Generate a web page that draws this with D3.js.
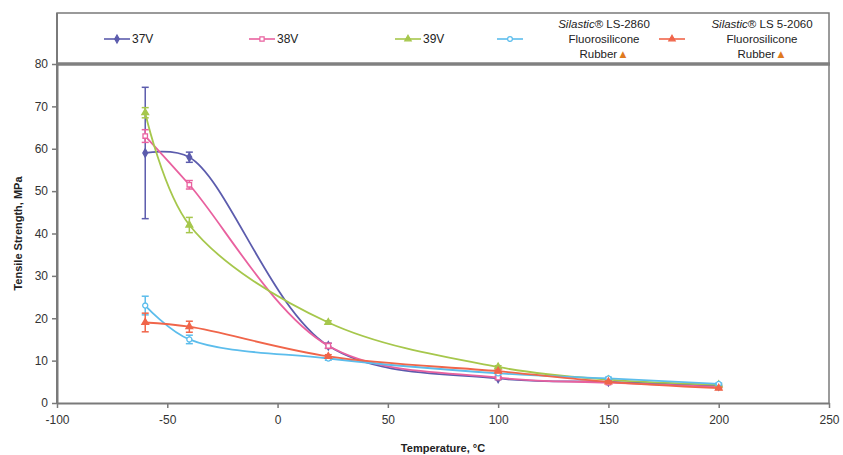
<!DOCTYPE html>
<html><head><meta charset="utf-8">
<script src="https://cdn.jsdelivr.net/npm/d3@7"></script>
<style>body{margin:0;background:#fff}svg{display:block}text{font-family:Arial,"Liberation Sans",sans-serif}</style>
</head><body><svg id="c" width="843" height="455"></svg>
<script>
const temps = [-60, -40, 23, 100, 150, 200];
const xTicks = [-100, -50, 0, 50, 100, 150, 200, 250];
const yTicks = [0, 10, 20, 30, 40, 50, 60, 70, 80];
const v37 = [59, 58, 13.5, 5.8, 5.0, 4.0];
const e37 = [15.5, 1.2, 0.6, 0.3, 0.2, 0.2];
const v38 = [63, 51.5, 13.5, 6.0, 4.8, 3.8];
const e38 = [1.5, 1.0, 0.6, 0.3, 0.2, 0.2];
const v39 = [68.5, 42, 19, 8.5, 5.5, 4.3];
const e39 = [1.2, 1.8, 0.4, 0.3, 0.2, 0.2];
const vLS2860 = [23, 15, 10.5, 7.0, 5.8, 4.5];
const eLS2860 = [2.2, 1.0, 0.4, 0.3, 0.3, 0.2];
const vLS52060 = [19, 18, 11, 7.5, 5.0, 3.5];
const eLS52060 = [2.2, 1.3, 0.4, 0.3, 0.2, 0.2];

const series = [
  {name:["37V"], vals:v37, err:e37, color:"#5c5cad", sym:"diamond", fill:true, lx:117},
  {name:["38V"], vals:v38, err:e38, color:"#e9619f", sym:"square", fill:false, lx:262},
  {name:["39V"], vals:v39, err:e39, color:"#a6c74c", sym:"triangle", fill:true, lx:408},
  {name:["Silastic","® LS-2860","Fluorosilicone","Rubber"], vals:vLS2860, err:eLS2860, color:"#5cbdec", sym:"circle", fill:false, lx:510, tx:604},
  {name:["Silastic","® LS 5-2060","Fluorosilicone","Rubber"], vals:vLS52060, err:eLS52060, color:"#f0654a", sym:"triangle", fill:true, lx:672, tx:762}
];

const svg = d3.select("#c");
const L = 57, R = 829, T = 64, B = 403, LT = 13;
const x = d3.scaleLinear().domain([-100, 250]).range([L, R]);
const y = d3.scaleLinear().domain([0, 80]).range([B, T]);
const frame = "#7a7a7a";

svg.append("rect").attr("x", L).attr("y", LT).attr("width", R-L).attr("height", T-LT)
  .attr("fill", "#fff").attr("stroke", frame).attr("stroke-width", 1.5);
svg.append("line").attr("x1", R).attr("x2", R).attr("y1", T).attr("y2", B).attr("stroke", frame).attr("stroke-width", 1.5);
svg.append("line").attr("x1", L-1).attr("x2", R+1).attr("y1", T).attr("y2", T).attr("stroke", "#808080").attr("stroke-width", 3.5);

const xa = svg.append("g").attr("transform", `translate(0,${B})`)
  .call(d3.axisBottom(x).tickValues(xTicks).tickFormat(d => String(d)).tickSize(5).tickSizeOuter(0).tickPadding(7));
const ya = svg.append("g").attr("transform", `translate(${L},0)`)
  .call(d3.axisLeft(y).tickValues(yTicks).tickFormat(d => String(d)).tickSize(5).tickSizeOuter(0).tickPadding(4));
[xa, ya].forEach(a => {
  a.select(".domain").attr("stroke", frame).attr("stroke-width", 2);
  a.selectAll(".tick line").attr("stroke", frame).attr("stroke-width", 1.5);
  a.selectAll(".tick text").attr("fill", "#333").style("font-size", "12px").style("font-family", "Arial,'Liberation Sans',sans-serif");
});
svg.append("line").attr("x1", L).attr("x2", L).attr("y1", LT).attr("y2", B).attr("stroke", frame).attr("stroke-width", 2);

svg.append("text").attr("x", (L+R)/2).attr("y", 452).attr("text-anchor", "middle")
  .style("font-size", "11px").style("font-weight", "bold").attr("fill", "#222").text("Temperature, °C");
svg.append("text").attr("transform", `translate(22,${(T+B)/2}) rotate(-90)`).attr("text-anchor", "middle")
  .style("font-size", "11px").style("font-weight", "bold").attr("fill", "#222").text("Tensile Strength, MPa");

const symType = {diamond:d3.symbolDiamond, square:d3.symbolSquare, triangle:d3.symbolTriangle, circle:d3.symbolCircle};
const line = d3.line().x(d => x(d.t)).y(d => y(d.v)).curve(d3.curveCatmullRom.alpha(0.5));

const g = svg.append("g");
series.forEach(s => {
  const pts = temps.map((t, i) => ({t, v:s.vals[i], e:s.err[i]}));
  g.append("path").datum(pts).attr("d", line).attr("fill", "none").attr("stroke", s.color).attr("stroke-width", 1.8);
  pts.forEach(p => {
    const cx = x(p.t), y1 = y(p.v + p.e), y2 = y(p.v - p.e);
    g.append("line").attr("x1", cx).attr("x2", cx).attr("y1", y1).attr("y2", y2).attr("stroke", s.color).attr("stroke-width", 1.5);
    [y1, y2].forEach(yy => g.append("line").attr("x1", cx-3.5).attr("x2", cx+3.5).attr("y1", yy).attr("y2", yy).attr("stroke", s.color).attr("stroke-width", 1.5));
    g.append("path").attr("d", d3.symbol().type(symType[s.sym]).size(20)())
      .attr("transform", `translate(${cx},${y(p.v)})`)
      .attr("fill", s.fill ? s.color : "#fff").attr("stroke", s.color).attr("stroke-width", 1.3);
  });
});

series.forEach(s => {
  const ly = 39;
  svg.append("line").attr("x1", s.lx-13).attr("x2", s.lx+13).attr("y1", ly).attr("y2", ly).attr("stroke", s.color).attr("stroke-width", 1.6);
  svg.append("path").attr("d", d3.symbol().type(symType[s.sym]).size(18)())
    .attr("transform", `translate(${s.lx},${ly})`)
    .attr("fill", s.fill ? s.color : "#fff").attr("stroke", s.color).attr("stroke-width", 1.2);
  if (s.name.length === 1) {
    svg.append("text").attr("x", s.lx+15).attr("y", ly+4).style("font-size", "12px").attr("fill", "#222").text(s.name[0]);
  } else {
    const t1 = svg.append("text").attr("x", s.tx).attr("y", 28).attr("text-anchor", "middle").style("font-size", "11.5px").attr("fill", "#222");
    t1.append("tspan").style("font-style", "italic").text(s.name[0]);
    t1.append("tspan").text(s.name[1]);
    svg.append("text").attr("x", s.tx).attr("y", 43).attr("text-anchor", "middle").style("font-size", "11.5px").attr("fill", "#222").text(s.name[2]);
    const t3 = svg.append("text").attr("x", s.tx).attr("y", 58).attr("text-anchor", "middle").style("font-size", "11.5px").attr("fill", "#222");
    t3.append("tspan").text(s.name[3]);
    t3.append("tspan").attr("fill", "#e07a1e").text("▲");
  }
});
</script></body></html>
